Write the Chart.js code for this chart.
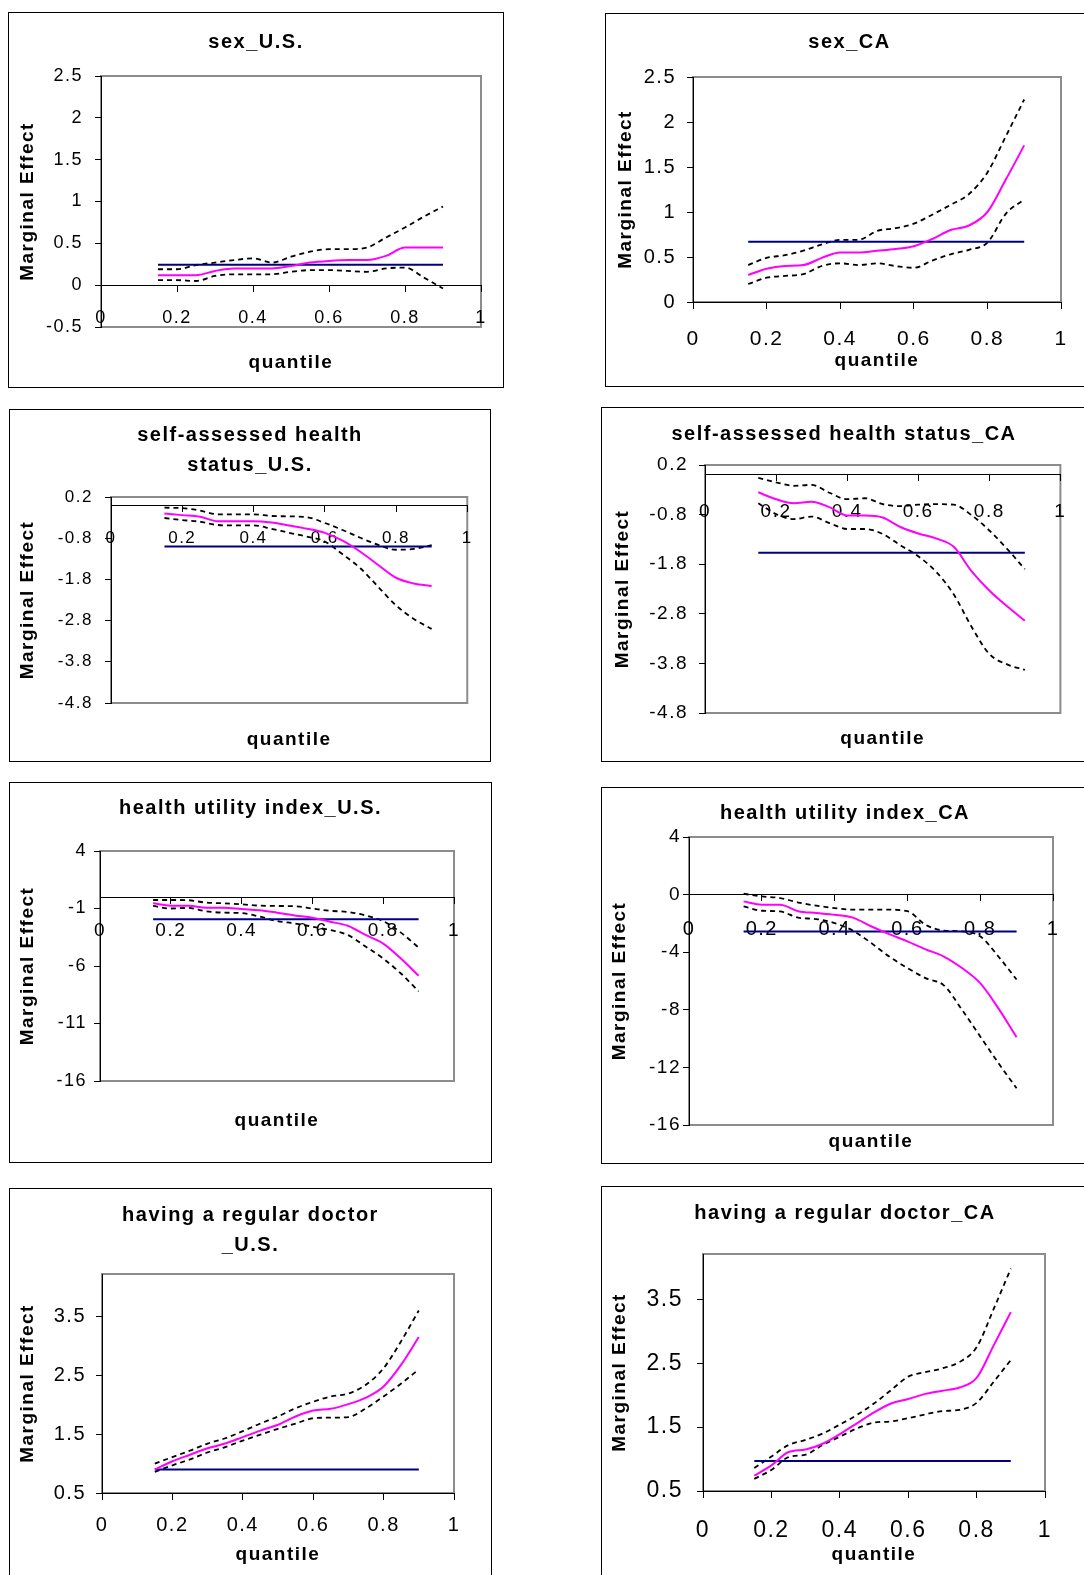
<!DOCTYPE html>
<html>
<head>
<meta charset="utf-8">
<script src="https://cdn.jsdelivr.net/npm/chart.js@4.4.0/dist/chart.umd.min.js"></script>
<style>
html, body { margin: 0; padding: 0; background: #fff; overflow: hidden; }
body { width: 1084px; height: 1575px; position: relative; }
.panel { position: absolute; border: 1px solid #000; box-sizing: border-box; background: #fff; overflow: hidden; }
.panel canvas { position: absolute; left: 0; top: 0; }
</style>
</head>
<body>
<script>
"use strict";
// quantiles at which the regressions were run
const quantiles = [0.15, 0.20, 0.25, 0.30, 0.35, 0.40, 0.45, 0.50, 0.55, 0.60, 0.65, 0.70, 0.75, 0.80, 0.85, 0.90];
const xTicks = [0, 0.2, 0.4, 0.6, 0.8, 1];

// sex_U.S.
const sexUsEst  = [0.12, 0.12, 0.12, 0.17, 0.20, 0.20, 0.20, 0.23, 0.27, 0.29, 0.30, 0.30, 0.35, 0.45, 0.45, 0.45];
const sexUsHigh = [0.19, 0.19, 0.24, 0.27, 0.30, 0.32, 0.27, 0.34, 0.40, 0.43, 0.43, 0.45, 0.57, 0.69, 0.82, 0.94];
const sexUsLow  = [0.06, 0.06, 0.05, 0.11, 0.13, 0.13, 0.13, 0.16, 0.18, 0.18, 0.17, 0.16, 0.20, 0.21, 0.09, -0.04];
const sexUsOls = 0.245;
const sexUsTicks = [-0.5, 0, 0.5, 1, 1.5, 2, 2.5];

// sex_CA
const sexCaEst  = [0.30, 0.37, 0.40, 0.41, 0.49, 0.55, 0.55, 0.57, 0.59, 0.62, 0.70, 0.80, 0.85, 1.00, 1.36, 1.74];
const sexCaHigh = [0.41, 0.49, 0.52, 0.57, 0.64, 0.69, 0.69, 0.79, 0.82, 0.87, 0.97, 1.08, 1.20, 1.44, 1.84, 2.25];
const sexCaLow  = [0.20, 0.27, 0.29, 0.31, 0.40, 0.43, 0.41, 0.43, 0.40, 0.38, 0.46, 0.53, 0.58, 0.66, 0.98, 1.14];
const sexCaOls = 0.67;
const sexCaTicks = [0, 0.5, 1, 1.5, 2, 2.5];

// self-assessed health status_U.S.
const sahsUsEst  = [-0.20, -0.24, -0.28, -0.39, -0.39, -0.39, -0.42, -0.49, -0.57, -0.67, -0.86, -1.13, -1.45, -1.76, -1.90, -1.96];
const sahsUsHigh = [-0.06, -0.07, -0.13, -0.22, -0.22, -0.22, -0.26, -0.27, -0.29, -0.43, -0.60, -0.79, -0.96, -1.08, -1.06, -0.97];
const sahsUsLow  = [-0.31, -0.36, -0.40, -0.48, -0.49, -0.49, -0.57, -0.67, -0.76, -0.88, -1.19, -1.53, -1.98, -2.43, -2.76, -3.00];
const sahsUsOls = -1.00;

// self-assessed health status_CA
const sahsCaEst  = [-0.35, -0.49, -0.57, -0.54, -0.65, -0.82, -0.82, -0.86, -1.05, -1.18, -1.28, -1.45, -1.94, -2.33, -2.65, -2.94];
const sahsCaHigh = [-0.06, -0.15, -0.22, -0.20, -0.36, -0.49, -0.47, -0.59, -0.63, -0.60, -0.59, -0.60, -0.81, -1.12, -1.49, -1.90];
const sahsCaLow  = [-0.57, -0.79, -0.89, -0.84, -0.97, -1.09, -1.09, -1.19, -1.42, -1.64, -1.95, -2.41, -3.06, -3.61, -3.82, -3.93];
const sahsCaOls = -1.57;
const sahsTicks = [-4.8, -3.8, -2.8, -1.8, -0.8, 0.2];

// health utility index_U.S.
const huiUsEst  = [-0.55, -0.75, -0.75, -0.93, -0.93, -1.05, -1.15, -1.36, -1.60, -1.80, -2.15, -2.50, -3.30, -4.05, -5.35, -6.85];
const huiUsHigh = [-0.26, -0.26, -0.28, -0.49, -0.55, -0.64, -0.75, -0.78, -0.80, -1.00, -1.20, -1.30, -1.60, -2.10, -3.10, -4.40];
const huiUsLow  = [-0.78, -1.00, -0.95, -1.25, -1.36, -1.40, -1.70, -2.09, -2.30, -2.58, -2.87, -3.30, -4.30, -5.35, -6.65, -8.20];
const huiUsOls = -1.94;
const huiUsTicks = [-16, -11, -6, -1, 4];

// health utility index_CA
const huiCaEst  = [-0.47, -0.70, -0.70, -1.15, -1.28, -1.40, -1.60, -2.20, -2.75, -3.25, -3.80, -4.30, -5.10, -6.15, -7.90, -9.90];
const huiCaHigh = [0.06, -0.13, -0.24, -0.55, -0.77, -0.94, -1.05, -1.05, -1.05, -1.15, -2.10, -2.50, -2.55, -2.90, -4.30, -5.90];
const huiCaLow  = [-0.82, -1.12, -1.17, -1.60, -1.70, -1.98, -2.50, -3.35, -4.30, -5.10, -5.80, -6.30, -8.00, -9.85, -11.70, -13.45];
const huiCaOls = -2.56;
const huiCaTicks = [-16, -12, -8, -4, 0, 4];

// having a regular doctor_U.S.
const docUsEst  = [0.90, 1.04, 1.15, 1.26, 1.34, 1.45, 1.56, 1.66, 1.80, 1.90, 1.93, 2.01, 2.12, 2.31, 2.68, 3.15];
const docUsHigh = [1.00, 1.11, 1.22, 1.34, 1.43, 1.55, 1.68, 1.80, 1.94, 2.05, 2.14, 2.19, 2.34, 2.62, 3.08, 3.60];
const docUsLow  = [0.86, 0.97, 1.07, 1.19, 1.28, 1.39, 1.49, 1.59, 1.68, 1.77, 1.78, 1.79, 1.94, 2.14, 2.36, 2.60];
const docUsOls = 0.90;

// having a regular doctor_CA
const docCaEst  = [0.74, 0.90, 1.11, 1.15, 1.24, 1.39, 1.56, 1.73, 1.87, 1.94, 2.02, 2.07, 2.12, 2.27, 2.78, 3.30];
const docCaHigh = [0.86, 1.04, 1.22, 1.30, 1.40, 1.54, 1.69, 1.87, 2.08, 2.29, 2.36, 2.42, 2.52, 2.75, 3.35, 3.98];
const docCaLow  = [0.69, 0.83, 1.03, 1.07, 1.22, 1.35, 1.48, 1.57, 1.59, 1.64, 1.70, 1.75, 1.77, 1.88, 2.21, 2.55];
const docCaOls = 0.97;
const docTicks = [0.5, 1.5, 2.5, 3.5];

const FONT = "'Liberation Sans', Arial, sans-serif";

// page layout: box = [left, top, width, height], plot = [left, top, right, bottom]
const panels = [
    { title: 'sex_U.S.', est: sexUsEst, high: sexUsHigh, low: sexUsLow, ols: sexUsOls, yTicks: sexUsTicks, yMax: 2.5,
      box: [8, 12, 496, 376], plot: [101, 76, 481, 327], titleY: 42, yTitleX: 28, xLabelY: 316, quantileY: 363, yGap: 18, yFont: 18, xFont: 18 },
    { title: 'sex_CA', est: sexCaEst, high: sexCaHigh, low: sexCaLow, ols: sexCaOls, yTicks: sexCaTicks, yMax: 2.5,
      box: [605, 13, 489, 374], plot: [693, 77, 1061, 302], titleY: 42, yTitleX: 626, xLabelY: 337, quantileY: 361, yGap: 17, yFont: 20, xFont: 21 },
    { title: ['self-assessed health', 'status_U.S.'], est: sahsUsEst, high: sahsUsHigh, low: sahsUsLow, ols: sahsUsOls, yTicks: sahsTicks, yMax: 0.2,
      box: [9, 409, 482, 353], plot: [111, 497, 473, 703], titleY: 435, yTitleX: 28, xLabelY: 537, quantileY: 740, yGap: 18, yFont: 17, xFont: 17 },
    { title: 'self-assessed health status_CA', est: sahsCaEst, high: sahsCaHigh, low: sahsCaLow, ols: sahsCaOls, yTicks: sahsTicks, yMax: 0.2,
      box: [601, 407, 486, 355], plot: [705, 465, 1061, 713], titleY: 434, yTitleX: 623, xLabelY: 510, quantileY: 739, yGap: 17, yFont: 19, xFont: 19 },
    { title: 'health utility index_U.S.', est: huiUsEst, high: huiUsHigh, low: huiUsLow, ols: huiUsOls, yTicks: huiUsTicks, yMax: 4,
      box: [9, 782, 483, 381], plot: [100, 851, 454, 1081], titleY: 808, yTitleX: 28, xLabelY: 929, quantileY: 1121, yGap: 13, yFont: 18, xFont: 19 },
    { title: 'health utility index_CA', est: huiCaEst, high: huiCaHigh, low: huiCaLow, ols: huiCaOls, yTicks: huiCaTicks, yMax: 4,
      box: [601, 787, 488, 377], plot: [689, 837, 1053, 1125], titleY: 813, yTitleX: 620, xLabelY: 927, quantileY: 1142, yGap: 8, yFont: 19, xFont: 20 },
    { title: ['having a regular doctor', '_U.S.'], est: docUsEst, high: docUsHigh, low: docUsLow, ols: docUsOls, yTicks: docTicks, yMax: 4.22,
      box: [9, 1188, 483, 400], plot: [102, 1274, 454, 1493], titleY: 1215, yTitleX: 28, xLabelY: 1523, quantileY: 1555, yGap: 16, yFont: 20, xFont: 20 },
    { title: 'having a regular doctor_CA', est: docCaEst, high: docCaHigh, low: docCaLow, ols: docCaOls, yTicks: docTicks, yMax: 4.21,
      box: [601, 1186, 488, 400], plot: [703, 1254, 1045, 1491], titleY: 1213, yTitleX: 620, xLabelY: 1528, quantileY: 1555, yGap: 20, yFont: 23, xFont: 23 }
];

// Excel-like wide text
const spacing = {
    id: 'spacing',
    beforeUpdate(chart) { chart.ctx.letterSpacing = '1.5px'; },
    beforeDraw(chart) { chart.ctx.letterSpacing = '1.5px'; }
};
// grey plot-area frame
const frame = {
    id: 'frame',
    beforeDraw(chart) {
        const a = chart.chartArea, ctx = chart.ctx;
        ctx.save();
        ctx.strokeStyle = '#8c8c8c';
        ctx.lineWidth = 2;
        ctx.strokeRect(a.left, a.top, a.right - a.left, a.bottom - a.top);
        ctx.restore();
    }
};

function points(values) {
    return quantiles.map((q, i) => ({ x: q, y: values[i] }));
}

function makePanel(p) {
    const [bl, bt, bw, bh] = p.box;
    const [pl, pt, pr, pb] = p.plot;
    const div = document.createElement('div');
    div.className = 'panel';
    div.style.left = bl + 'px';
    div.style.top = bt + 'px';
    div.style.width = bw + 'px';
    div.style.height = bh + 'px';
    const cw = bw - 2, ch = bh - 2, ox = bl + 1, oy = bt + 1;
    const canvas = document.createElement('canvas');
    canvas.width = cw;
    canvas.height = ch;
    canvas.style.width = cw + 'px';
    canvas.style.height = ch + 'px';
    div.appendChild(canvas);
    document.body.appendChild(div);

    const lines = Array.isArray(p.title) ? p.title.length : 1;
    const lhRatio = lines > 1 ? 1.5 : 1.2;
    const lh = 20 * lhRatio;
    const titleTop = (p.titleY - oy) - lh / 2;
    const titleBottom = (pt - oy) - titleTop - lh * lines;
    const axisLH = 19 * 1.2;
    const rightGap = cw - (pr - ox);

    const yMin = p.yTicks[0];
    const cross = yMin > 0 ? yMin : 0;
    const zeroY = pb - (cross - yMin) / (p.yMax - yMin) * (pb - pt);

    const lineOpts = { showLine: true, pointRadius: 0, fill: false, cubicInterpolationMode: 'monotone' };
    new Chart(canvas.getContext('2d'), {
        type: 'scatter',
        data: {
            datasets: [
                Object.assign({ data: points(p.est), borderColor: '#ff00ff', borderWidth: 2 }, lineOpts),
                Object.assign({ data: [{ x: quantiles[0], y: p.ols }, { x: quantiles[quantiles.length - 1], y: p.ols }],
                    borderColor: '#000080', borderWidth: 2 }, lineOpts),
                Object.assign({ data: points(p.high), borderColor: '#000', borderWidth: 1.8, borderDash: [5, 4] }, lineOpts),
                Object.assign({ data: points(p.low), borderColor: '#000', borderWidth: 1.8, borderDash: [5, 4] }, lineOpts)
            ]
        },
        options: {
            responsive: false,
            animation: false,
            devicePixelRatio: 1,
            layout: { padding: { left: 0, top: 0, right: 0, bottom: ch - (pb - oy) } },
            plugins: {
                legend: { display: false },
                tooltip: { enabled: false },
                title: {
                    display: true, text: p.title, color: '#000',
                    font: { family: FONT, size: 20, weight: 'bold', lineHeight: lhRatio },
                    padding: { top: titleTop, bottom: titleBottom }
                }
            },
            scales: {
                x: {
                    type: 'linear', min: 0, max: 1, position: { y: cross },
                    afterBuildTicks: s => { s.ticks = xTicks.map(v => ({ value: v })); },
                    afterFit: s => { s.height = p.quantileY - zeroY + axisLH / 2; },
                    grid: { drawOnChartArea: false, drawTicks: true, tickLength: 6, tickColor: '#000' },
                    border: { display: true, color: '#000', width: 1 },
                    ticks: { color: '#000', font: { family: FONT, size: p.xFont }, padding: p.xLabelY - zeroY - 6 - p.xFont / 2,
                        autoSkip: false, maxRotation: 0, callback: v => String(v) },
                    title: { display: true, text: 'quantile', color: '#000',
                        font: { family: FONT, size: 19, weight: 'bold', lineHeight: 1.2 }, padding: 0 }
                },
                y: {
                    type: 'linear', min: yMin, max: p.yMax, position: 'left',
                    afterBuildTicks: s => { s.ticks = p.yTicks.map(v => ({ value: v })); },
                    afterFit: s => { s.width = pl - ox; },
                    grid: { drawOnChartArea: false, drawTicks: true, tickLength: 6, tickColor: '#000' },
                    border: { display: true, color: '#000', width: 1 },
                    ticks: { color: '#000', font: { family: FONT, size: p.yFont }, padding: p.yGap - 6,
                        autoSkip: false, callback: v => String(v) },
                    title: { display: true, text: 'Marginal Effect', color: '#000',
                        font: { family: FONT, size: 19, weight: 'bold', lineHeight: 1.2 },
                        padding: { top: (p.yTitleX - ox) - axisLH / 2, bottom: 0 } }
                },
                // empty right-hand gutter so the title stays centred in the box
                gutter: {
                    type: 'linear', position: 'right', display: true,
                    grid: { display: false }, border: { display: false }, ticks: { display: false },
                    afterFit: s => { s.width = rightGap; }
                }
            }
        },
        plugins: [spacing, frame]
    });
}

panels.forEach(makePanel);
</script>
</body>
</html>
